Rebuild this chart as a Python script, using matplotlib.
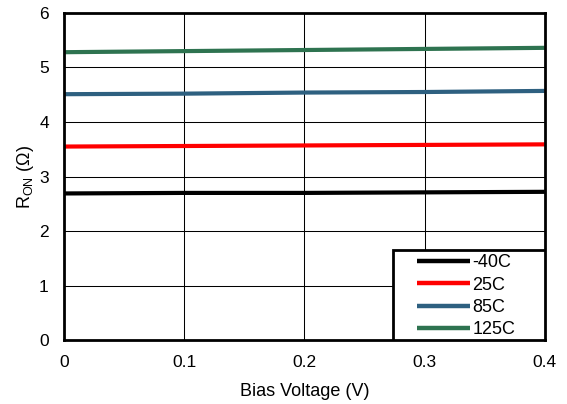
import numpy as np
import matplotlib
matplotlib.use("Agg")
import matplotlib.pyplot as plt
from matplotlib.patches import Rectangle

plt.rcParams['font.family'] = ['Liberation Sans', 'DejaVu Sans']
plt.rcParams['mathtext.fontset'] = 'custom'
plt.rcParams['mathtext.rm'] = 'Liberation Sans'

# --- data ---
bias_v = [0.0, 0.1, 0.2, 0.3, 0.4]
ron_m40 = [2.69, 2.70, 2.70, 2.71, 2.72]
ron_25 = [3.55, 3.56, 3.57, 3.58, 3.59]
ron_85 = [4.51, 4.52, 4.54, 4.55, 4.57]
ron_125 = [5.28, 5.30, 5.32, 5.34, 5.36]

labels = ['-40C', '25C', '85C', '125C']
colors = ['#000000', '#ff0000', '#2e6080', '#2e7350']

fig = plt.figure(figsize=(5.67, 4.04), dpi=100)
ax = fig.add_axes([0.113, 0.158, 0.848, 0.81])

for vals, lab, col in zip([ron_m40, ron_25, ron_85, ron_125], labels, colors):
    ax.plot(bias_v, vals, color=col, linewidth=3, label=lab, solid_capstyle='butt')

ax.set_xlim(0, 0.4)
ax.set_ylim(0, 6)
ax.set_xticks([0, 0.1, 0.2, 0.3, 0.4])
ax.set_xticklabels(['0', '0.1', '0.2', '0.3', '0.4'])
ax.set_yticks(range(0, 7))
ax.grid(True, color='black', linewidth=0.75)
ax.set_axisbelow(True)
ax.tick_params(length=0, labelsize=12.5, pad=11)
for s in ax.spines.values():
    s.set_linewidth(2)

ax.set_xlabel('Bias Voltage (V)', fontsize=13, labelpad=9)
ax.set_ylabel(r'R$_\mathregular{ON}$ ($\Omega$)', fontsize=13, labelpad=2)

# legend box is wider than its content, so frame drawn separately
box = Rectangle((0.684, 0.0), 0.316, 0.275, transform=ax.transAxes,
                facecolor='white', edgecolor='black', linewidth=2, zorder=4)
ax.add_patch(box)
leg = ax.legend(loc='upper left', bbox_to_anchor=(0.735, 0.262), fontsize=13,
                frameon=False, borderaxespad=0, borderpad=0, handlelength=2.9,
                handletextpad=0.15, labelspacing=0.29)
leg.set_zorder(5)
for h in leg.get_lines():
    h.set_linewidth(3.2)

fig.savefig('out.png', dpi=100)
